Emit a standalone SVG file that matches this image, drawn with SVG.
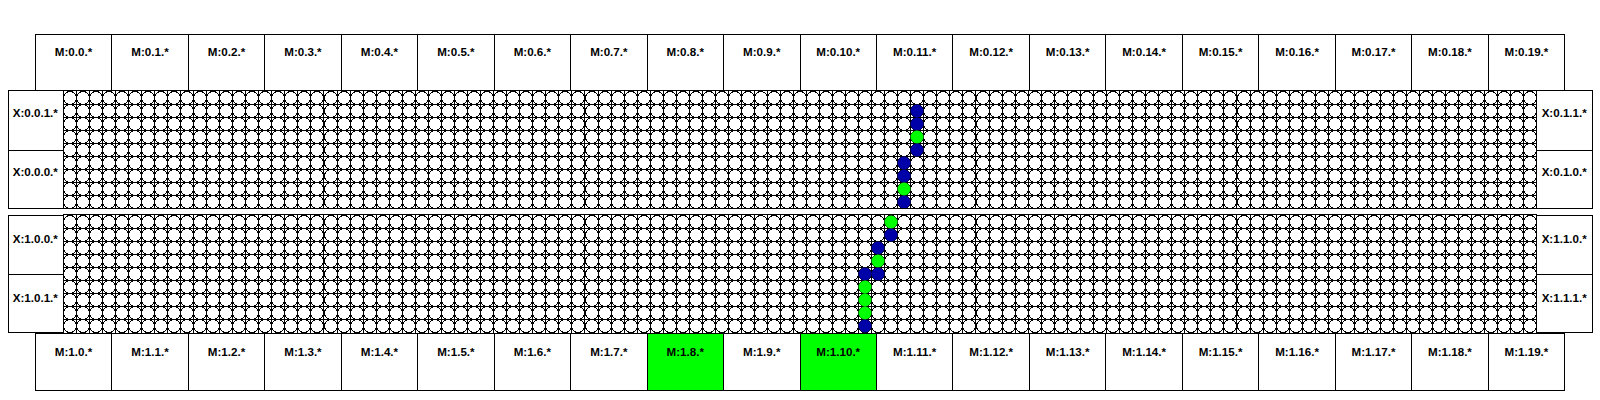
<svg xmlns="http://www.w3.org/2000/svg" width="1600" height="400" viewBox="0 0 1600 400">
<style>
text{font-family:"Liberation Sans",Arial,sans-serif;font-size:11.6px;font-weight:bold;text-anchor:middle;fill:#000}
.box{fill:#fff;stroke:#000;stroke-width:1;shape-rendering:crispEdges}
.on{fill:#0f0}
.line{fill:none;stroke:#000;stroke-width:1;shape-rendering:crispEdges}
.dot{fill:#fff;stroke:#000;stroke-width:1;shape-rendering:crispEdges}
.b{fill:#0000a8}
.g{fill:#0f0}
</style>
<defs>
<path id="v" d="M0 0V118"/>
<g id="v10"><use href="#v"/><use href="#v" x="13"/><use href="#v" x="26"/><use href="#v" x="39"/><use href="#v" x="52"/><use href="#v" x="65"/><use href="#v" x="78"/><use href="#v" x="91"/><use href="#v" x="104"/><use href="#v" x="117"/></g>
<circle id="o" r="6.5"/>
<g id="c10"><use href="#o"/><use href="#o" x="13"/><use href="#o" x="26"/><use href="#o" x="39"/><use href="#o" x="52"/><use href="#o" x="65"/><use href="#o" x="78"/><use href="#o" x="91"/><use href="#o" x="104"/><use href="#o" x="117"/></g>
<g id="row"><use href="#c10"/><use href="#c10" x="130"/><use href="#c10" x="261"/><use href="#c10" x="391"/><use href="#c10" x="522"/><use href="#c10" x="652"/><use href="#c10" x="782"/><use href="#c10" x="913"/><use href="#c10" x="1043"/><use href="#c10" x="1174"/><use href="#c10" x="1304"/><use href="#o" x="1434"/><use href="#o" x="1447"/><use href="#o" x="1460"/></g>
<g id="block">
<g class="line" transform="translate(76.5 0)"><use href="#v10"/><use href="#v10" x="130"/><use href="#v10" x="261"/><use href="#v10" x="391"/><use href="#v10" x="522"/><use href="#v10" x="652"/><use href="#v10" x="782"/><use href="#v10" x="913"/><use href="#v10" x="1043"/><use href="#v10" x="1174"/><use href="#v10" x="1304"/><use href="#v" x="1434"/><use href="#v" x="1447"/></g>
<path class="line" d="M63.5 13.5H1536.5M63.5 26.5H1536.5M63.5 39.5H1536.5M63.5 52.5H1536.5M63.5 65.5H1536.5M63.5 78.5H1536.5M63.5 91.5H1536.5M63.5 104.5H1536.5"/>
<g class="dot" transform="translate(70 0)"><use href="#row" y="7"/><use href="#row" y="20"/><use href="#row" y="33"/><use href="#row" y="46"/><use href="#row" y="59"/><use href="#row" y="72"/><use href="#row" y="85"/><use href="#row" y="98"/><use href="#row" y="111"/></g>
</g>
<clipPath id="ct"><rect x="63.5" y="91" width="1473" height="118"/></clipPath>
<clipPath id="cb"><rect x="63.5" y="215" width="1473" height="118"/></clipPath>
</defs>
<rect width="1600" height="400" fill="#fff"/>
<g id="grid-top"><g clip-path="url(#ct)"><use href="#block" y="91"/>
<circle class="b" cx="917" cy="111" r="6.5"/><circle class="b" cx="917" cy="124" r="6.5"/><circle class="g" cx="917" cy="137" r="6.5"/><circle class="b" cx="917" cy="150" r="6.5"/>
<circle class="b" cx="904" cy="163" r="6.5"/><circle class="b" cx="904" cy="176" r="6.5"/><circle class="g" cx="904" cy="189" r="6.5"/><circle class="b" cx="904" cy="202" r="6.5"/>
</g><rect x="63.5" y="90.5" width="1473" height="118" fill="none" stroke="#000" shape-rendering="crispEdges"/></g>
<g id="grid-bottom"><g clip-path="url(#cb)"><use href="#block" y="215"/>
<circle class="g" cx="891" cy="222" r="6.5"/><circle class="b" cx="891" cy="235" r="6.5"/><circle class="b" cx="878" cy="248" r="6.5"/><circle class="g" cx="878" cy="261" r="6.5"/><circle class="b" cx="878" cy="274" r="6.5"/>
<circle class="b" cx="865" cy="274" r="6.5"/><circle class="g" cx="865" cy="287" r="6.5"/><circle class="g" cx="865" cy="300" r="6.5"/><circle class="g" cx="865" cy="313" r="6.5"/><circle class="b" cx="865" cy="326" r="6.5"/>
</g><rect x="63.5" y="214.5" width="1473" height="118.5" fill="none" stroke="#000" shape-rendering="crispEdges"/></g>
<g id="X-0-0-1"><rect class="box" x="8.3" y="90.7" width="55" height="59.3"/><text x="35.3" y="117.3">X:0.0.1.*</text></g>
<g id="X-0-0-0"><rect class="box" x="8.3" y="150" width="55" height="58.6"/><text x="35.3" y="176.3">X:0.0.0.*</text></g>
<g id="X-1-0-0"><rect class="box" x="8.3" y="215" width="55" height="59.3"/><text x="35.3" y="242.7">X:1.0.0.*</text></g>
<g id="X-1-0-1"><rect class="box" x="8.3" y="274.3" width="55" height="58.6"/><text x="35.3" y="301.7">X:1.0.1.*</text></g>
<g id="X-0-1-1"><rect class="box" x="1536.7" y="90.7" width="56" height="59.3"/><text x="1564.2" y="117.3">X:0.1.1.*</text></g>
<g id="X-0-1-0"><rect class="box" x="1536.7" y="150" width="56" height="58.6"/><text x="1564.2" y="176.3">X:0.1.0.*</text></g>
<g id="X-1-1-0"><rect class="box" x="1536.7" y="215" width="56" height="59.3"/><text x="1564.2" y="242.7">X:1.1.0.*</text></g>
<g id="X-1-1-1"><rect class="box" x="1536.7" y="274.3" width="56" height="58.6"/><text x="1564.2" y="301.7">X:1.1.1.*</text></g>
<g id="M-0-0"><rect class="box" x="35.3" y="34.3" width="76.47" height="56.4"/><text x="73.53" y="56.3">M:0.0.*</text></g>
<g id="M-0-1"><rect class="box" x="111.77" y="34.3" width="76.47" height="56.4"/><text x="150" y="56.3">M:0.1.*</text></g>
<g id="M-0-2"><rect class="box" x="188.24" y="34.3" width="76.47" height="56.4"/><text x="226.47" y="56.3">M:0.2.*</text></g>
<g id="M-0-3"><rect class="box" x="264.71" y="34.3" width="76.47" height="56.4"/><text x="302.94" y="56.3">M:0.3.*</text></g>
<g id="M-0-4"><rect class="box" x="341.18" y="34.3" width="76.47" height="56.4"/><text x="379.41" y="56.3">M:0.4.*</text></g>
<g id="M-0-5"><rect class="box" x="417.65" y="34.3" width="76.47" height="56.4"/><text x="455.88" y="56.3">M:0.5.*</text></g>
<g id="M-0-6"><rect class="box" x="494.12" y="34.3" width="76.47" height="56.4"/><text x="532.35" y="56.3">M:0.6.*</text></g>
<g id="M-0-7"><rect class="box" x="570.59" y="34.3" width="76.47" height="56.4"/><text x="608.82" y="56.3">M:0.7.*</text></g>
<g id="M-0-8"><rect class="box" x="647.06" y="34.3" width="76.47" height="56.4"/><text x="685.29" y="56.3">M:0.8.*</text></g>
<g id="M-0-9"><rect class="box" x="723.53" y="34.3" width="76.47" height="56.4"/><text x="761.76" y="56.3">M:0.9.*</text></g>
<g id="M-0-10"><rect class="box" x="800" y="34.3" width="76.47" height="56.4"/><text x="838.23" y="56.3">M:0.10.*</text></g>
<g id="M-0-11"><rect class="box" x="876.47" y="34.3" width="76.47" height="56.4"/><text x="914.7" y="56.3">M:0.11.*</text></g>
<g id="M-0-12"><rect class="box" x="952.94" y="34.3" width="76.47" height="56.4"/><text x="991.17" y="56.3">M:0.12.*</text></g>
<g id="M-0-13"><rect class="box" x="1029.41" y="34.3" width="76.47" height="56.4"/><text x="1067.64" y="56.3">M:0.13.*</text></g>
<g id="M-0-14"><rect class="box" x="1105.88" y="34.3" width="76.47" height="56.4"/><text x="1144.11" y="56.3">M:0.14.*</text></g>
<g id="M-0-15"><rect class="box" x="1182.35" y="34.3" width="76.47" height="56.4"/><text x="1220.58" y="56.3">M:0.15.*</text></g>
<g id="M-0-16"><rect class="box" x="1258.82" y="34.3" width="76.47" height="56.4"/><text x="1297.05" y="56.3">M:0.16.*</text></g>
<g id="M-0-17"><rect class="box" x="1335.29" y="34.3" width="76.47" height="56.4"/><text x="1373.52" y="56.3">M:0.17.*</text></g>
<g id="M-0-18"><rect class="box" x="1411.76" y="34.3" width="76.47" height="56.4"/><text x="1449.99" y="56.3">M:0.18.*</text></g>
<g id="M-0-19"><rect class="box" x="1488.23" y="34.3" width="76.47" height="56.4"/><text x="1526.46" y="56.3">M:0.19.*</text></g>
<g id="M-1-0"><rect class="box" x="35.3" y="333" width="76.47" height="57"/><text x="73.53" y="355.7">M:1.0.*</text></g>
<g id="M-1-1"><rect class="box" x="111.77" y="333" width="76.47" height="57"/><text x="150" y="355.7">M:1.1.*</text></g>
<g id="M-1-2"><rect class="box" x="188.24" y="333" width="76.47" height="57"/><text x="226.47" y="355.7">M:1.2.*</text></g>
<g id="M-1-3"><rect class="box" x="264.71" y="333" width="76.47" height="57"/><text x="302.94" y="355.7">M:1.3.*</text></g>
<g id="M-1-4"><rect class="box" x="341.18" y="333" width="76.47" height="57"/><text x="379.41" y="355.7">M:1.4.*</text></g>
<g id="M-1-5"><rect class="box" x="417.65" y="333" width="76.47" height="57"/><text x="455.88" y="355.7">M:1.5.*</text></g>
<g id="M-1-6"><rect class="box" x="494.12" y="333" width="76.47" height="57"/><text x="532.35" y="355.7">M:1.6.*</text></g>
<g id="M-1-7"><rect class="box" x="570.59" y="333" width="76.47" height="57"/><text x="608.82" y="355.7">M:1.7.*</text></g>
<g id="M-1-8"><rect class="box on" x="647.06" y="333" width="76.47" height="57"/><text x="685.29" y="355.7">M:1.8.*</text></g>
<g id="M-1-9"><rect class="box" x="723.53" y="333" width="76.47" height="57"/><text x="761.76" y="355.7">M:1.9.*</text></g>
<g id="M-1-10"><rect class="box on" x="800" y="333" width="76.47" height="57"/><text x="838.23" y="355.7">M:1.10.*</text></g>
<g id="M-1-11"><rect class="box" x="876.47" y="333" width="76.47" height="57"/><text x="914.7" y="355.7">M:1.11.*</text></g>
<g id="M-1-12"><rect class="box" x="952.94" y="333" width="76.47" height="57"/><text x="991.17" y="355.7">M:1.12.*</text></g>
<g id="M-1-13"><rect class="box" x="1029.41" y="333" width="76.47" height="57"/><text x="1067.64" y="355.7">M:1.13.*</text></g>
<g id="M-1-14"><rect class="box" x="1105.88" y="333" width="76.47" height="57"/><text x="1144.11" y="355.7">M:1.14.*</text></g>
<g id="M-1-15"><rect class="box" x="1182.35" y="333" width="76.47" height="57"/><text x="1220.58" y="355.7">M:1.15.*</text></g>
<g id="M-1-16"><rect class="box" x="1258.82" y="333" width="76.47" height="57"/><text x="1297.05" y="355.7">M:1.16.*</text></g>
<g id="M-1-17"><rect class="box" x="1335.29" y="333" width="76.47" height="57"/><text x="1373.52" y="355.7">M:1.17.*</text></g>
<g id="M-1-18"><rect class="box" x="1411.76" y="333" width="76.47" height="57"/><text x="1449.99" y="355.7">M:1.18.*</text></g>
<g id="M-1-19"><rect class="box" x="1488.23" y="333" width="76.47" height="57"/><text x="1526.46" y="355.7">M:1.19.*</text></g>
</svg>
